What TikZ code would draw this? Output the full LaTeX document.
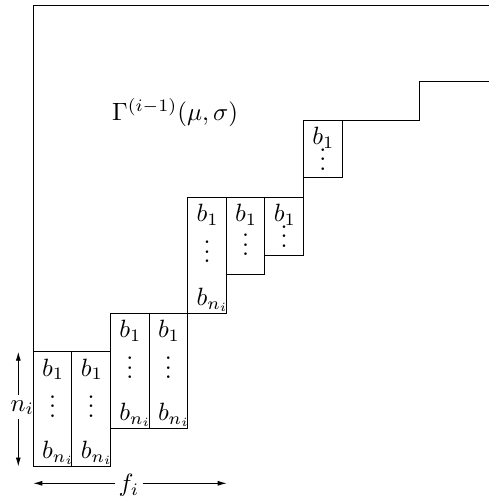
\documentclass[tikz,border=0pt]{standalone}
\usepackage{graphicx}
\usetikzlibrary{arrows.meta}
\newcommand\mybig[1]{\scalebox{2.5}{#1}}
\newcommand\myvdots{\scalebox{2.5}{\vbox{\baselineskip3.8pt\lineskiplimit0pt\hbox{.}\hbox{.}\hbox{.}}}}
\begin{document}
\begin{tikzpicture}[x=1pt,y=-1pt,line width=1pt,
  every node/.style={inner sep=0pt},
  cell/.style={draw, minimum width=38.6pt, outer sep=0pt, anchor=north west},
  arr/.style={-{Latex[length=9pt,width=5pt]}, line width=0.9pt}]
\useasboundingbox (0,0) rectangle (489,498);
% cells
\node[cell, minimum height=115pt]   (g1a) at (33.3,351.7) {};
\node[cell, minimum height=115pt]   (g1b) at (71.9,351.7) {};
\node[cell, minimum height=115pt]   (g2a) at (110.5,313.3) {};
\node[cell, minimum height=115pt]   (g2b) at (149.1,313.3) {};
\node[cell, minimum height=116.3pt] (g3a) at (187.7,197) {};
\node[cell, minimum height=77.5pt]  (g3b) at (226.3,197) {};
\node[cell, minimum height=58.2pt]  (g3c) at (264.9,197) {};
\node[cell, minimum height=57.8pt]  (g4a) at (303.5,120) {};
% frame and staircase
\draw (489,5) -- (33.3,5) -- (g1a.north west);
\draw (g4a.south west) -- (g3c.north east);
\draw (g4a.north east) -- (419,120) -- (419,81.7) -- (489,81.7);
% b_1 labels
\foreach \c in {g1a,g1b,g2a,g2b,g3a,g3b,g3c,g4a}
  \node[anchor=base west] (\c-top) at ([shift={(8.4pt,-24.5pt)}]\c.north west) {\mybig{$b_1$}};
% b_{n_i} labels
\foreach \c in {g1a,g1b,g2a,g2b,g3a}
  \node[anchor=base west] (\c-bot) at ([shift={(8.4pt,8pt)}]\c.south west) {\mybig{$b_{n_i}$}};
% dots
\foreach \c/\d in {g1a/54.5,g1b/54.5,g2a/54.5,g2b/54.5,g3a/55,g3b/48,g3c/39.3,g4a/39.3}
  \node (\c-dots) at ([yshift=-\d pt]\c.north) {\myvdots};
% region label
\node[anchor=base west] (gamma) at (111.7,120.5) {\mybig{$\Gamma^{(i-1)}(\mu,\sigma)$}};
% n_i dimension
\coordinate (nt) at (18.3,351.7);
\coordinate (nb) at (18.3,466.5);
\node[anchor=base west] (nlabel) at (10,411) {\mybig{$n_i$}};
\draw[arr] ([yshift=5pt]nlabel.north -| nt) -- (nt);
\draw[arr] ([yshift=-3.5pt]nlabel.south -| nb) -- (nb);
% f_i dimension
\coordinate (fl) at (33.3,483.3);
\coordinate (fr) at (226.7,483.3);
\node[anchor=base, inner xsep=3pt] (flabel) at (129,491.5) {\mybig{$f_i$}};
\draw[arr] (flabel.west |- fl) -- (fl);
\draw[arr] (flabel.east |- fr) -- (fr);
\end{tikzpicture}
\end{document}
